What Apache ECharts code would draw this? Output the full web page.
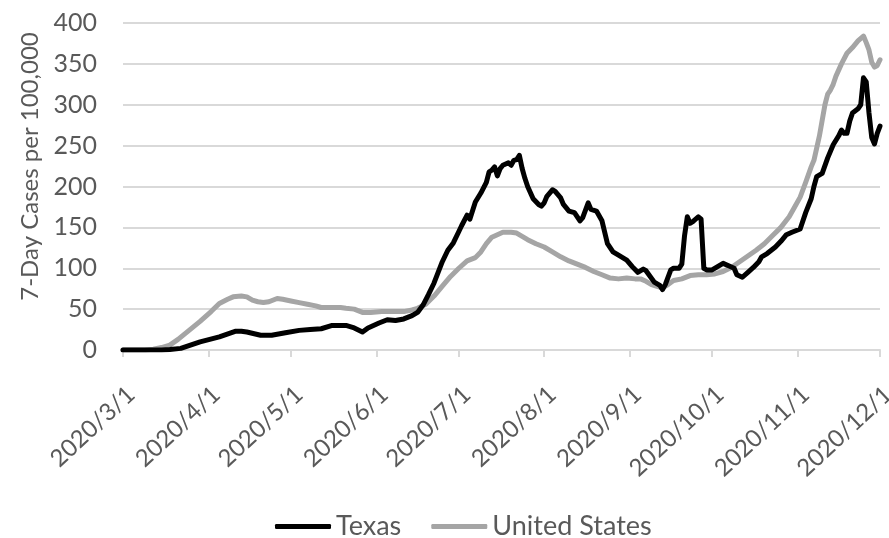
<!DOCTYPE html>
<html>
<head>
<meta charset="utf-8">
<script src="https://cdn.jsdelivr.net/npm/echarts@6/dist/echarts.min.js"></script>
<style>
  html, body { margin: 0; padding: 0; background: #ffffff; }
  #chart { width: 889px; height: 538px; }
</style>
</head>
<body>
<div id="chart"></div>
<script>
// 7-day COVID-19 cases per 100,000 residents, Texas vs. United States, 2020
var startDate = '2020/3/1';
var endDate = '2020/12/1';
var yTicks = [0, 50, 100, 150, 200, 250, 300, 350, 400];
var seriesNames = ['Texas', 'United States'];
var yAxisTitle = '7-Day Cases per 100,000';

var texasDates = [
  '2020/3/1','2020/3/15','2020/3/18','2020/3/22','2020/3/29','2020/4/5','2020/4/11','2020/4/13','2020/4/15','2020/4/20',
  '2020/4/24','2020/4/29','2020/5/4','2020/5/8','2020/5/12','2020/5/16','2020/5/21','2020/5/24','2020/5/27','2020/5/29',
  '2020/5/31','2020/6/2','2020/6/5','2020/6/8','2020/6/11','2020/6/14','2020/6/16','2020/6/18','2020/6/20','2020/6/22',
  '2020/6/25','2020/6/27','2020/6/29','2020/7/1','2020/7/2','2020/7/4','2020/7/5','2020/7/7','2020/7/9','2020/7/11',
  '2020/7/12','2020/7/13','2020/7/14','2020/7/15','2020/7/16','2020/7/17','2020/7/19','2020/7/20','2020/7/21','2020/7/22',
  '2020/7/23','2020/7/24','2020/7/25','2020/7/26','2020/7/28','2020/7/30','2020/7/31','2020/8/1','2020/8/2','2020/8/4',
  '2020/8/5','2020/8/7','2020/8/8','2020/8/10','2020/8/12','2020/8/14','2020/8/15','2020/8/17','2020/8/18','2020/8/20',
  '2020/8/22','2020/8/24','2020/8/26','2020/8/28','2020/8/31','2020/9/2','2020/9/4','2020/9/6','2020/9/7','2020/9/10',
  '2020/9/12','2020/9/13','2020/9/14','2020/9/16','2020/9/17','2020/9/19','2020/9/20','2020/9/21','2020/9/22','2020/9/23',
  '2020/9/24','2020/9/26','2020/9/27','2020/9/28','2020/9/29','2020/10/1','2020/10/3','2020/10/5','2020/10/7','2020/10/9',
  '2020/10/10','2020/10/12','2020/10/14','2020/10/16','2020/10/18','2020/10/19','2020/10/21','2020/10/24','2020/10/26','2020/10/28',
  '2020/10/30','2020/11/2','2020/11/4','2020/11/6','2020/11/7','2020/11/8','2020/11/10','2020/11/12','2020/11/14','2020/11/16',
  '2020/11/17','2020/11/18','2020/11/19','2020/11/20','2020/11/21','2020/11/23','2020/11/24','2020/11/25','2020/11/26','2020/11/27',
  '2020/11/28','2020/11/29','2020/11/30','2020/12/1'
];
var texasValues = [
  0, 0, 0.5, 2, 10, 16, 23, 23, 22, 18,
  18, 21, 24, 25, 26, 30, 30, 27, 22, 27,
  30, 33, 37, 36, 38, 42, 46, 55, 68, 82,
  108, 122, 131, 145, 152, 165, 160, 181, 192, 205,
  218, 220, 224, 213, 222, 226, 229, 226, 232, 233,
  238, 222, 210, 200, 185, 178, 176, 180, 188, 196,
  194, 186, 178, 170, 168, 158, 162, 180, 172, 170,
  158, 130, 120, 116, 110, 102, 95, 99, 97, 83,
  79, 74, 80, 98, 100, 100, 105, 140, 163, 155,
  157, 163, 160, 100, 98, 98, 102, 106, 103, 100,
  92, 89, 95, 101, 108, 114, 118, 126, 133, 141,
  144, 148, 168, 185, 200, 212, 216, 235, 251, 262,
  269, 265, 265, 280, 290, 295, 300, 333, 328, 290,
  260, 252, 265, 274
];

var usDates = [
  '2020/3/1','2020/3/9','2020/3/12','2020/3/15','2020/3/18','2020/3/21','2020/3/25','2020/3/29','2020/4/2','2020/4/5',
  '2020/4/8','2020/4/10','2020/4/13','2020/4/15','2020/4/17','2020/4/19','2020/4/21','2020/4/23','2020/4/26','2020/4/28',
  '2020/5/1','2020/5/4','2020/5/7','2020/5/10','2020/5/12','2020/5/15','2020/5/19','2020/5/21','2020/5/24','2020/5/27',
  '2020/5/30','2020/6/3','2020/6/7','2020/6/11','2020/6/14','2020/6/16','2020/6/19','2020/6/22','2020/6/25','2020/6/28',
  '2020/7/1','2020/7/4','2020/7/7','2020/7/9','2020/7/11','2020/7/13','2020/7/15','2020/7/17','2020/7/20','2020/7/22',
  '2020/7/24','2020/7/26','2020/7/29','2020/8/1','2020/8/4','2020/8/7','2020/8/10','2020/8/13','2020/8/16','2020/8/19',
  '2020/8/22','2020/8/25','2020/8/28','2020/8/31','2020/9/3','2020/9/5','2020/9/7','2020/9/9','2020/9/11','2020/9/13',
  '2020/9/15','2020/9/17','2020/9/20','2020/9/23','2020/9/26','2020/9/29','2020/10/2','2020/10/5','2020/10/8','2020/10/11',
  '2020/10/14','2020/10/17','2020/10/20','2020/10/23','2020/10/26','2020/10/29','2020/10/31','2020/11/2','2020/11/4','2020/11/6',
  '2020/11/7','2020/11/8','2020/11/9','2020/11/10','2020/11/11','2020/11/12','2020/11/13','2020/11/14','2020/11/15','2020/11/17',
  '2020/11/19','2020/11/21','2020/11/23','2020/11/25','2020/11/26','2020/11/27','2020/11/28','2020/11/29','2020/11/30','2020/12/1'
];
var usValues = [
  0, 0, 1, 3, 6, 13, 24, 35, 47, 57,
  62, 65, 66, 65, 61, 59, 58, 59, 63, 62,
  60, 58, 56, 54, 52, 52, 52, 51, 50, 46,
  46, 47, 47, 47, 49, 51, 56, 66, 78, 90,
  100, 109, 113, 120, 130, 138, 141, 144, 144, 143,
  139, 135, 130, 126, 120, 114, 109, 105, 101, 96,
  92, 88, 87, 88, 87, 87, 84, 80, 78, 76,
  80, 85, 87, 91, 92, 92, 93, 96, 101, 108,
  115, 122, 130, 140, 150, 163, 175, 187, 205, 224,
  232, 247, 262, 281, 300, 313, 318, 325, 335, 350,
  363, 370, 378, 384, 376, 367, 352, 346, 348, 355
];

// Daily category list for the x axis
function buildDays(from, to) {
  var out = [];
  var p = from.split('/').map(Number);
  var q = to.split('/').map(Number);
  var d = new Date(p[0], p[1] - 1, p[2]);
  var end = new Date(q[0], q[1] - 1, q[2]);
  while (d <= end) {
    out.push(d.getFullYear() + '/' + (d.getMonth() + 1) + '/' + d.getDate());
    d.setDate(d.getDate() + 1);
  }
  return out;
}
var days = buildDays(startDate, endDate);

function pairs(dates, values) {
  return dates.map(function (dt, i) { return [dt, values[i]]; });
}
// ticks and labels only on the first day of each month
function isMonthStart(idx, val) { return /\/1$/.test(val); }

var textColor = '#595959';
var gridColor = '#d9d9d9';
var fontFamily = 'Lato, "Liberation Sans", sans-serif';

var chart = echarts.init(document.getElementById('chart'), null, { renderer: 'canvas' });
chart.setOption({
  animation: false,
  backgroundColor: '#ffffff',
  textStyle: { fontFamily: fontFamily },
  grid: { left: 123, right: 9, top: 23, bottom: 188, containLabel: false, outerBoundsMode: 'none' },
  legend: {
    data: seriesNames,
    top: 508,
    left: 270,
    icon: 'roundRect',
    itemWidth: 56,
    itemHeight: 5,
    itemGap: 30,
    textStyle: { color: textColor, fontSize: 27, fontFamily: fontFamily }
  },
  xAxis: {
    type: 'category',
    data: days,
    boundaryGap: false,
    axisLine: { show: true, lineStyle: { color: gridColor, width: 2 } },
    axisTick: { show: true, interval: isMonthStart, length: 7, lineStyle: { color: gridColor, width: 2 } },
    axisLabel: {
      interval: isMonthStart,
      rotate: 43,
      margin: 32,
      align: 'right',
      verticalAlign: 'top',
      color: textColor,
      fontSize: 24,
      fontFamily: fontFamily
    },
    splitLine: { show: false }
  },
  yAxis: {
    type: 'value',
    min: yTicks[0],
    max: yTicks[yTicks.length - 1],
    interval: yTicks[1] - yTicks[0],
    name: yAxisTitle,
    nameLocation: 'middle',
    nameGap: 74,
    nameTextStyle: { color: textColor, fontSize: 24, fontFamily: fontFamily, padding: [0, 0, 0, 40] },
    axisLine: { show: false },
    axisTick: { show: false },
    axisLabel: { color: textColor, fontSize: 25, margin: 26, fontFamily: fontFamily },
    splitLine: { show: true, lineStyle: { color: gridColor, width: 2 } }
  },
  series: [
    {
      name: seriesNames[1],
      type: 'line',
      data: pairs(usDates, usValues),
      showSymbol: false,
      symbol: 'none',
      z: 2,
      lineStyle: { color: '#a5a5a5', width: 5, join: 'round', cap: 'round' },
      itemStyle: { color: '#a5a5a5' }
    },
    {
      name: seriesNames[0],
      type: 'line',
      data: pairs(texasDates, texasValues),
      showSymbol: false,
      symbol: 'none',
      z: 3,
      lineStyle: { color: '#000000', width: 5, join: 'round', cap: 'round' },
      itemStyle: { color: '#000000' }
    }
  ]
});
</script>
</body>
</html>
